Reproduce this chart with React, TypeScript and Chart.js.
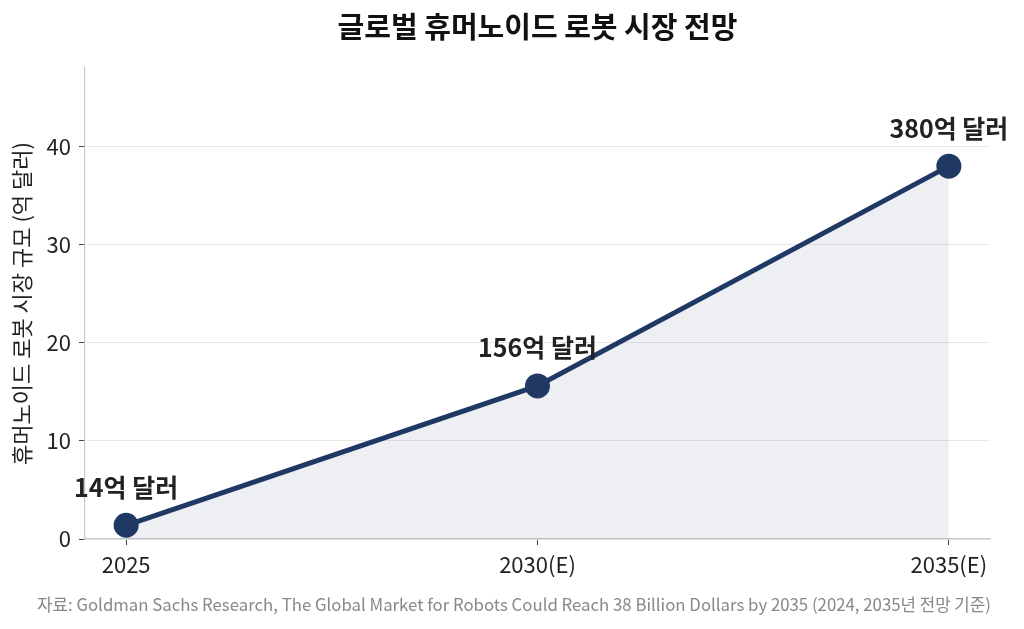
import { useEffect, useRef } from "react";
import { Chart, registerables } from "chart.js";

Chart.register(...registerables);

// data (unit: 억 달러 / 10)
const years = [2025, 2030, 2035];
const yearLabels = ["2025", "2030(E)", "2035(E)"];
const marketSize = [1.4, 15.6, 38];
const pointLabels = ["14억 달러", "156억 달러", "380억 달러"];
const yTicks = [0, 10, 20, 30, 40];

const FONT = "'Noto Sans CJK KR', 'Noto Sans', sans-serif";
const NAVY = "#1f3864";

// draws the title, the value labels above the points and the source line
const textPlugin = {
  id: "texts",
  afterDatasetsDraw(chart: Chart) {
    const { ctx, chartArea } = chart;
    const meta = chart.getDatasetMeta(0);
    ctx.save();
    ctx.fillStyle = "#222";
    ctx.font = `bold 25px ${FONT}`;
    ctx.textAlign = "center";
    ctx.textBaseline = "middle";
    meta.data.forEach((pt, i) => {
      ctx.fillText(pointLabels[i], pt.x, pt.y - 38);
    });

    ctx.font = `bold 29px ${FONT}`;
    ctx.fillStyle = "#111";
    ctx.fillText("글로벌 휴머노이드 로봇 시장 전망", (chartArea.left + chartArea.right) / 2, 27);

    ctx.font = `16.8px ${FONT}`;
    ctx.fillStyle = "#888";
    ctx.fillText(
      "자료: Goldman Sachs Research, The Global Market for Robots Could Reach 38 Billion Dollars by 2035 (2024, 2035년 전망 기준)",
      chart.width / 2 + 2,
      605
    );
    ctx.restore();
  },
};

const MarketChart = () => {
  const canvasRef = useRef<HTMLCanvasElement | null>(null);

  useEffect(() => {
    if (!canvasRef.current) return;
    const chart = new Chart(canvasRef.current, {
      type: "line",
      data: {
        datasets: [
          {
            data: years.map((x, i) => ({ x, y: marketSize[i] })),
            borderColor: NAVY,
            borderWidth: 5,
            backgroundColor: "rgba(31,56,100,0.08)",
            fill: "origin",
            pointRadius: 10,
            pointHoverRadius: 10,
            pointBackgroundColor: NAVY,
            pointBorderColor: NAVY,
            tension: 0,
          },
        ],
      },
      options: {
        animation: false,
        responsive: true,
        maintainAspectRatio: false,
        layout: { padding: { left: 0, right: 34, top: 68, bottom: 40 } },
        plugins: {
          legend: { display: false },
          tooltip: { enabled: false },
        },
        scales: {
          x: {
            type: "linear",
            min: 2024.5,
            max: 2035.5,
            afterBuildTicks: (s) => {
              s.ticks = years.map((v) => ({ value: v }));
            },
            afterFit: (s) => {
              s.height = 50;
            },
            ticks: {
              color: "#222",
              font: { family: FONT, size: 22 },
              padding: 6,
              maxRotation: 0,
              callback: (v) => yearLabels[years.indexOf(Number(v))] ?? "",
            },
            grid: {
              drawOnChartArea: false,
              drawTicks: true,
              tickLength: 6,
              tickColor: "#444",
            },
            border: { color: "#c8c8c8", width: 1.2 },
          },
          y: {
            min: 0,
            max: 48,
            afterBuildTicks: (s) => {
              s.ticks = yTicks.map((v) => ({ value: v }));
            },
            afterFit: (s) => {
              s.width = 85;
            },
            ticks: {
              color: "#222",
              font: { family: FONT, size: 22 },
              padding: 8,
            },
            grid: {
              color: "#e8e8e8",
              drawTicks: true,
              tickLength: 6,
              tickColor: "#444",
            },
            border: { color: "#c8c8c8", width: 1.2 },
            title: {
              display: true,
              text: "휴머노이드 로봇 시장 규모 (억 달러)",
              color: "#222",
              font: { family: FONT, size: 22 },
              padding: { top: 8, bottom: 0 },
            },
          },
        },
      },
      plugins: [textPlugin],
    });
    return () => chart.destroy();
  }, []);

  return (
    <div style={{ position: "absolute", left: 0, top: 0, width: 1024, height: 629, background: "#fff" }}>
      <canvas ref={canvasRef}></canvas>
    </div>
  );
};

export default function App() {
  return <MarketChart />;
}
